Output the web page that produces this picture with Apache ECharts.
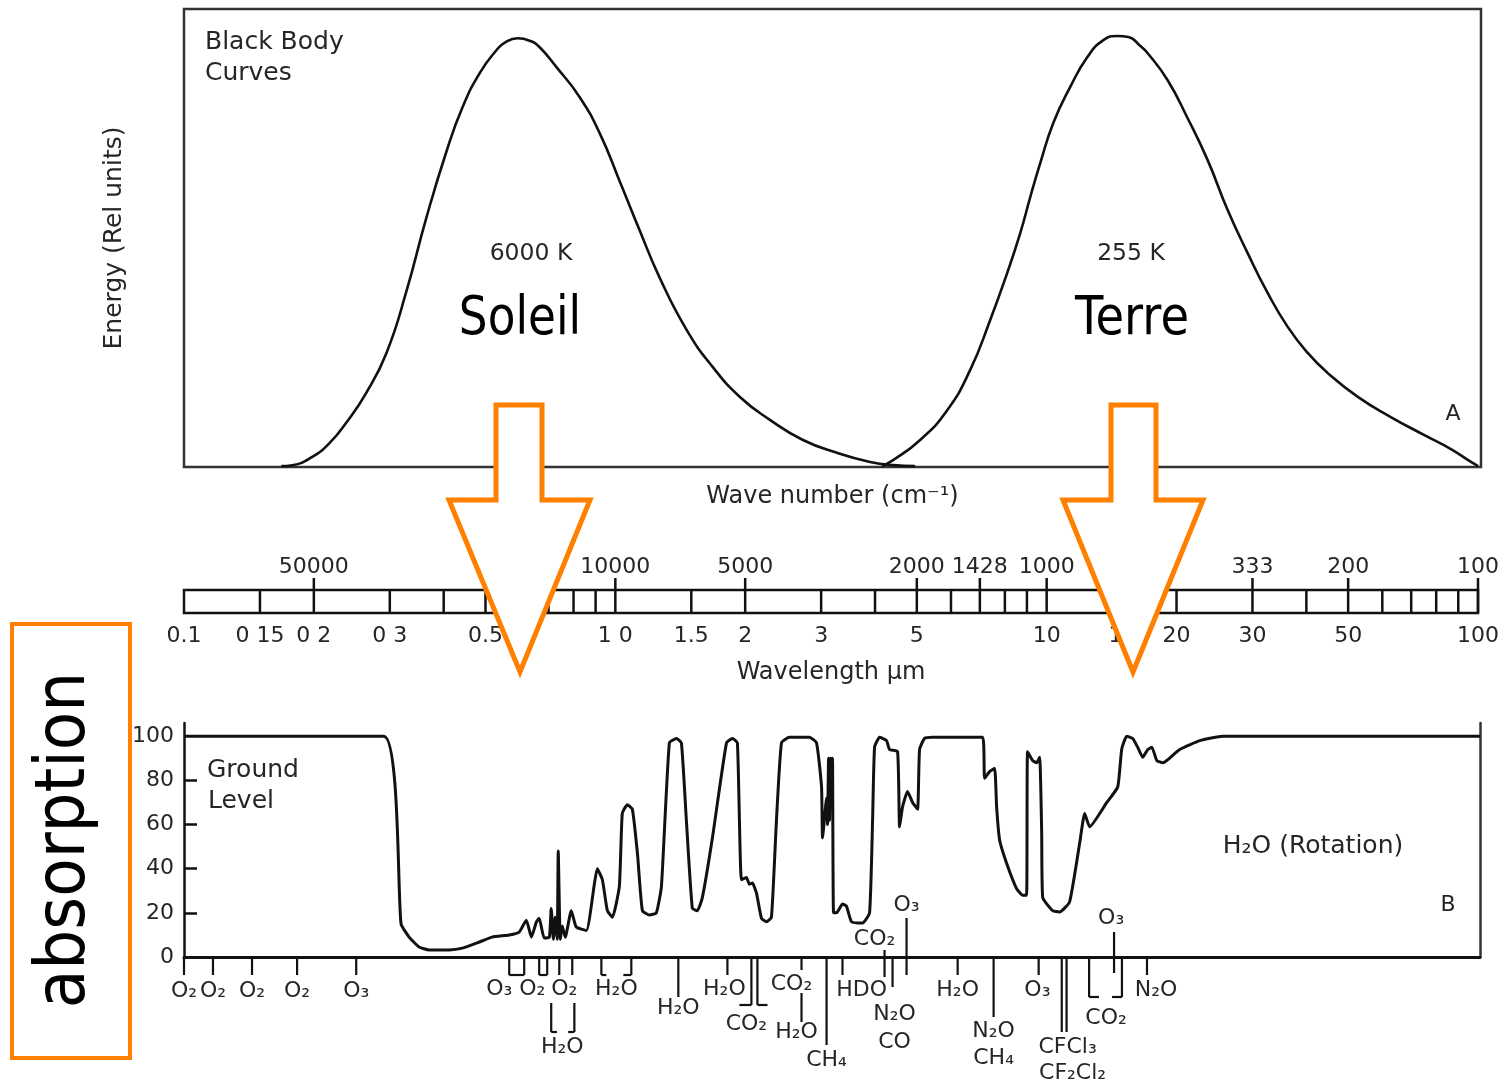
<!DOCTYPE html>
<html>
<head>
<meta charset="utf-8">
<title>Black body curves and atmospheric absorption</title>
<script src="https://cdn.jsdelivr.net/npm/echarts@6/dist/echarts.min.js"></script>
<style>
  html, body { margin: 0; padding: 0; background: #fff; }
  #chart { width: 1506px; height: 1084px; }
</style>
</head>
<body>
<div id="chart"></div>
<script>
// ---------- data (wavelength in µm) ----------

// Normalised black body emission, 6000 K (sun)
const sunCurve = [
  [0.168, 0.2], [0.178, 0.4], [0.198, 2.2], [0.217, 5.2], [0.237, 9.6], [0.264, 16.2],
  [0.294, 24.9], [0.327, 38.4], [0.3635, 54.4], [0.405, 69.0], [0.441, 78.6],
  [0.483, 86.0], [0.528, 91.0], [0.551, 92.6], [0.591, 93.6], [0.633, 93.0], [0.664, 91.7],
  [0.727, 87.3], [0.822, 80.8], [0.915, 72.9], [1.018, 62.4], [1.132, 51.7], [1.260, 41.3],
  [1.455, 29.9], [1.672, 21.8], [1.931, 15.3], [2.266, 10.3], [2.702, 5.9], [3.239, 3.1],
  [3.863, 1.1], [4.367, 0.4], [4.910, 0.2]
];

// Normalised black body emission, 255 K (earth)
const earthCurve = [
  [4.118, 0.2], [4.367, 1.5], [5.043, 5.9], [5.825, 12.4], [6.585, 21.2], [7.325, 32.1],
  [8.020, 42.4], [8.598, 51.1], [9.069, 59.0], [9.565, 66.4], [10.25, 75.1], [11.22, 83.0],
  [12.29, 89.5], [13.38, 93.2], [14.42, 94.1], [15.29, 93.9], [16.30, 91.9], [16.93, 90.4],
  [18.83, 84.5], [20.95, 76.2], [23.32, 67.0], [25.94, 56.1], [28.86, 46.7], [32.10, 38.0],
  [35.72, 30.6], [39.73, 24.9], [44.21, 20.5], [51.89, 15.3], [61.85, 10.9], [73.80, 7.0],
  [85.20, 3.9], [94.81, 1.1], [98.5, 0.2]
];

// Absorption (%) of the whole atmosphere, ground level
const absorptionProfile = [
  [0.1, 100], [0.29, 100], [0.318, 15], [0.332, 9], [0.350, 4.5], [0.369, 3.2], [0.411, 3.2],
  [0.441, 4], [0.483, 6.8], [0.517, 9], [0.566, 10], [0.597, 11.3], [0.620, 16.7], [0.637, 9],
  [0.654, 15.8], [0.664, 17.6], [0.682, 8.6], [0.701, 9], [0.708, 22], [0.716, 8], [0.723, 18],
  [0.731, 8], [0.735, 48], [0.743, 8], [0.751, 14], [0.763, 9], [0.788, 21], [0.809, 13.6],
  [0.854, 12], [0.891, 33], [0.905, 40], [0.930, 35], [0.955, 21], [0.981, 18], [1.018, 32],
  [1.034, 65], [1.062, 69], [1.091, 67], [1.121, 47], [1.151, 21], [1.195, 19], [1.240, 20],
  [1.274, 32], [1.329, 97], [1.380, 99], [1.417, 97], [1.455, 62], [1.502, 22], [1.543, 21],
  [1.585, 27], [1.672, 54], [1.802, 97], [1.860, 99], [1.910, 97], [1.951, 35], [2.004, 36],
  [2.036, 33], [2.069, 33.5], [2.114, 29], [2.171, 17.6], [2.230, 16], [2.290, 18], [2.352, 62],
  [2.416, 97], [2.521, 99.5], [2.805, 99.5], [2.912, 97], [2.991, 77], [3.007, 54], [3.072, 72],
  [3.088, 60], [3.105, 90], [3.121, 62], [3.138, 90], [3.154, 70], [3.171, 90], [3.188, 20],
  [3.239, 20], [3.344, 24], [3.416, 23], [3.509, 16], [3.721, 15.4], [3.863, 20], [3.926, 62],
  [3.968, 95], [4.074, 99.5], [4.229, 98], [4.297, 94], [4.485, 93], [4.533, 59], [4.606, 68],
  [4.730, 75], [4.858, 70], [4.989, 67], [5.043, 94], [5.179, 99], [5.405, 99.5], [7.058, 99.5],
  [7.133, 81], [7.325, 84], [7.523, 85.5], [7.604, 68], [7.727, 53], [8.020, 42.5], [8.458, 31],
  [8.733, 28], [8.921, 28], [8.969, 93], [9.214, 89], [9.413, 88], [9.565, 90.5], [9.668, 57],
  [9.720, 27], [10.25, 21], [10.64, 20.4], [11.22, 25], [11.84, 51.6], [12.16, 65], [12.49, 59],
  [13.68, 70], [14.50, 77], [14.81, 94], [15.21, 100], [15.71, 99], [16.13, 95], [16.57, 90.5],
  [17.02, 94], [17.39, 95], [17.86, 89], [18.44, 88], [18.83, 89], [20.18, 94], [22.46, 98],
  [25.39, 100], [100, 100]
];

// Scale bar between the panels
const scaleTicks = [0.15, 0.2, 0.3, 0.4, 0.5, 0.6, 0.7, 0.8, 0.9, 1, 1.5, 2, 3, 4, 5, 6, 7, 8, 9,
                    10, 15, 20, 30, 40, 50, 60, 70, 80, 90, 100];
const wavenumberLabels = [['50000', 0.2], ['10000', 1], ['5000', 2], ['2000', 5], ['1428', 7],
                          ['1000', 10], ['333', 30], ['200', 50], ['100', 100]];
const wavelengthLabels = [['0.1', 0.1], ['0 15', 0.15], ['0 2', 0.2], ['0 3', 0.3], ['0.5', 0.5],
                          ['1 0', 1], ['1.5', 1.5], ['2', 2], ['3', 3], ['5', 5], ['10', 10],
                          ['15', 15], ['20', 20], ['30', 30], ['50', 50], ['100', 100]];

// Absorbing species: [formula, wavelength µm, label drop below the zero line (px)]
const absorberLabels = [
  ['O₂', 0.1, 34], ['O₂', 0.1167, 34], ['O₂', 0.1437, 34], ['O₂', 0.1827, 34], ['O₃', 0.2504, 34],
  ['O₃', 0.537, 32], ['O₂', 0.640, 32], ['O₂', 0.759, 32], ['H₂O', 0.751, 90],
  ['H₂O', 1.002, 32], ['H₂O', 1.394, 51], ['H₂O', 1.782, 32], ['CO₂', 2.004, 67],
  ['CO₂', 2.548, 27], ['H₂O', 2.617, 75], ['CH₄', 3.072, 103], ['HDO', 3.702, 33],
  ['CO₂', 3.968, -18], ['N₂O', 4.413, 57], ['CO', 4.413, 85], ['O₃', 4.705, -52],
  ['H₂O', 6.178, 33], ['N₂O', 7.483, 74], ['CH₄', 7.483, 101], ['O₃', 9.45, 33],
  ['CFCl₃', 11.10, 90], ['CF₂Cl₂', 11.40, 116], ['CO₂', 13.63, 61], ['O₃', 14.0, -39],
  ['N₂O', 17.78, 33]
];
// Leader lines: [wavelength µm, from px, to px] measured down from the zero line
const absorberLeaders = [
  [0.1, 0, 18], [0.1167, 0, 18], [0.1437, 0, 18], [0.1827, 0, 18], [0.2504, 0, 18],
  [0.566, 0, 18], [0.613, 0, 18], [0.664, 0, 18], [0.693, 0, 18], [0.739, 0, 18], [0.792, 0, 18],
  [0.708, 46, 75], [0.801, 46, 75], [0.925, 0, 18], [1.085, 0, 18], [1.394, 0, 40], [1.811, 0, 18],
  [2.058, 0, 48], [2.125, 0, 48], [2.688, 0, 13], [2.688, 36, 65], [3.072, 0, 88], [3.344, 0, 18],
  [4.184, -7, 20], [4.367, 0, 30], [4.705, -39, 18], [6.178, 0, 18], [7.483, 0, 60], [9.514, 0, 18],
  [10.76, 0, 75], [11.04, 0, 75], [12.45, 0, 40], [14.83, 0, 40], [14.22, -25, 16], [16.95, 0, 18]
];
// Bracket feet: [from µm, to µm, depth px]
const absorberFeet = [
  [0.566, 0.613, 18], [0.664, 0.693, 18], [0.708, 0.73, 75], [0.775, 0.801, 75],
  [0.925, 0.95, 18], [1.04, 1.085, 18], [1.931, 2.058, 48], [2.125, 2.242, 48],
  [12.45, 13.12, 40], [14.07, 14.83, 40]
];

// ---------- chart ----------
const FONT = '"DejaVu Sans", "Liberation Sans", sans-serif';
const INK = '#262626';
const LINE = '#111';
const ORANGE = '#FF8000';

function txt(text, x, y, size, extra, color) {
  return Object.assign({
    type: 'text', x: x, y: y, z: 60,
    style: {
      text: text, fill: color || INK, fontSize: size, fontFamily: FONT,
      font: size + 'px ' + FONT,
      align: 'center', verticalAlign: 'middle',
      textAlign: 'center', textVerticalAlign: 'middle'
    }
  }, extra || {});
}
function txtLeft(text, x, y, size) {
  const t = txt(text, x, y, size);
  t.style.align = 'left'; t.style.textAlign = 'left';
  return t;
}
function arrow(shaftL, shaftR, headL, headR, tipX, top, neck, tip) {
  return {
    type: 'polygon', z: 100,
    shape: { points: [[shaftL, top], [shaftR, top], [shaftR, neck], [headR, neck], [tipX, tip],
                      [headL, neck], [shaftL, neck]] },
    style: { fill: '#fff', stroke: ORANGE, lineWidth: 5, lineJoin: 'miter' }
  };
}

const logAxisBase = { type: 'log', logBase: 10, min: 0.1, max: 100 };
const hiddenParts = { axisLine: { show: false }, axisTick: { show: false },
                      axisLabel: { show: false }, splitLine: { show: false } };

const chart = echarts.init(document.getElementById('chart'), null, { renderer: 'canvas' });

chart.setOption({
  backgroundColor: '#fff',
  animation: false,
  grid: [
    { left: 184, top: 9, width: 1297, height: 458, show: true, borderColor: '#333', borderWidth: 2.5,
      backgroundColor: 'transparent', outerBoundsMode: 'none' },
    { left: 184, top: 590, width: 1294, height: 23, show: true, borderColor: LINE, borderWidth: 2.5,
      backgroundColor: 'transparent', outerBoundsMode: 'none' },
    { left: 184, top: 723, width: 1296, height: 234, outerBoundsMode: 'none' }
  ],
  xAxis: [
    Object.assign({ gridIndex: 0, name: 'Wave number (cm⁻¹)', nameLocation: 'middle', nameGap: 18,
      nameTextStyle: { fontFamily: FONT, fontSize: 24, color: INK } }, logAxisBase, hiddenParts),
    Object.assign({ gridIndex: 1, name: 'Wavelength µm', nameLocation: 'middle', nameGap: 48,
      nameTextStyle: { fontFamily: FONT, fontSize: 24, color: INK } }, logAxisBase, hiddenParts),
    Object.assign({ gridIndex: 2 }, logAxisBase, hiddenParts,
      { axisLine: { show: true, onZero: false, lineStyle: { color: LINE, width: 3 } } })
  ],
  yAxis: [
    Object.assign({ gridIndex: 0, type: 'value', min: 0, max: 100, name: 'Energy (Rel units)',
      nameLocation: 'middle', nameGap: 57, nameRotate: 90,
      nameTextStyle: { fontFamily: FONT, fontSize: 25, color: INK } }, hiddenParts),
    Object.assign({ gridIndex: 1, type: 'value', min: 0, max: 1 }, hiddenParts),
    {
      gridIndex: 2, type: 'value', min: 0, max: 106,
      axisLine: { show: true, lineStyle: { color: LINE, width: 2.5 } },
      axisTick: { show: true, inside: true, length: 13, customValues: [20, 40, 60, 80],
                  lineStyle: { color: LINE, width: 2.5 } },
      axisLabel: { show: true, customValues: [0, 20, 40, 60, 80, 100], margin: 10,
                   fontFamily: FONT, fontSize: 22, color: INK },
      splitLine: { show: false }
    },
    Object.assign({ gridIndex: 2, type: 'value', min: 0, max: 106, position: 'right' }, hiddenParts,
      { axisLine: { show: true, lineStyle: { color: '#333', width: 2.5 } } })
  ],
  series: [
    { name: '6000 K', type: 'line', xAxisIndex: 0, yAxisIndex: 0, data: sunCurve, smooth: 0.5,
      showSymbol: false, lineStyle: { color: LINE, width: 2.6 } },
    { name: '255 K', type: 'line', xAxisIndex: 0, yAxisIndex: 0, data: earthCurve, smooth: 0.5,
      showSymbol: false, lineStyle: { color: LINE, width: 2.6 } },
    {
      name: 'scale ticks', type: 'custom', xAxisIndex: 1, yAxisIndex: 1, clip: false, z: 5,
      data: scaleTicks.map(w => [w, 0]),
      renderItem: (params, api) => {
        const w = scaleTicks[params.dataIndex];
        const lo = api.coord([w, 0]);
        const hi = api.coord([w, 1]);
        const major = wavenumberLabels.some(l => l[1] === w);
        return { type: 'line', shape: { x1: lo[0], y1: lo[1], x2: lo[0], y2: hi[1] - (major ? 12 : 0) },
                 style: { stroke: LINE, lineWidth: 2.5 } };
      }
    },
    {
      name: 'wave numbers', type: 'custom', xAxisIndex: 1, yAxisIndex: 1, clip: false,
      data: wavenumberLabels.map(l => [l[1], 1]),
      renderItem: (params, api) => {
        const l = wavenumberLabels[params.dataIndex];
        const p = api.coord([l[1], 1]);
        return { type: 'text', x: p[0], y: p[1] - 23,
                 style: { text: l[0], fill: INK, fontSize: 22, fontFamily: FONT,
                          align: 'center', verticalAlign: 'middle' } };
      }
    },
    {
      name: 'wavelengths', type: 'custom', xAxisIndex: 1, yAxisIndex: 1, clip: false,
      data: wavelengthLabels.map(l => [l[1], 0]),
      renderItem: (params, api) => {
        const l = wavelengthLabels[params.dataIndex];
        const p = api.coord([l[1], 0]);
        return { type: 'text', x: p[0], y: p[1] + 23,
                 style: { text: l[0], fill: INK, fontSize: 22, fontFamily: FONT,
                          align: 'center', verticalAlign: 'middle' } };
      }
    },
    { name: 'absorption', type: 'line', xAxisIndex: 2, yAxisIndex: 2, data: absorptionProfile,
      smooth: 0.15, showSymbol: false, z: 4, lineStyle: { color: LINE, width: 3 } },
    {
      name: 'leaders', type: 'custom', xAxisIndex: 2, yAxisIndex: 2, clip: false,
      data: absorberLeaders.map(d => [d[0], 0]),
      renderItem: (params, api) => {
        const d = absorberLeaders[params.dataIndex];
        const p = api.coord([d[0], 0]);
        return { type: 'line', shape: { x1: p[0], y1: p[1] + d[1], x2: p[0], y2: p[1] + d[2] },
                 style: { stroke: LINE, lineWidth: 2.2 } };
      }
    },
    {
      name: 'feet', type: 'custom', xAxisIndex: 2, yAxisIndex: 2, clip: false,
      data: absorberFeet.map(d => [d[0], 0]),
      renderItem: (params, api) => {
        const d = absorberFeet[params.dataIndex];
        const a = api.coord([d[0], 0]);
        const b = api.coord([d[1], 0]);
        return { type: 'line', shape: { x1: a[0], y1: a[1] + d[2], x2: b[0], y2: a[1] + d[2] },
                 style: { stroke: LINE, lineWidth: 2.2 } };
      }
    },
    {
      name: 'absorbers', type: 'custom', xAxisIndex: 2, yAxisIndex: 2, clip: false,
      data: absorberLabels.map(d => [d[1], 0]),
      renderItem: (params, api) => {
        const d = absorberLabels[params.dataIndex];
        const p = api.coord([d[1], 0]);
        return { type: 'text', x: p[0], y: p[1] + d[2],
                 style: { text: d[0], fill: INK, fontSize: 22, fontFamily: FONT,
                          align: 'center', verticalAlign: 'middle' } };
      }
    }
  ],
  graphic: [
    txtLeft('Black Body', 205, 42, 25),
    txtLeft('Curves', 205, 73, 25),
    txt('6000 K', 531, 254, 23.5),
    txt('255 K', 1131, 254, 23.5),
    txt('A', 1453, 414, 22),
    txt('Soleil', 520, 320, 54, { scaleX: 0.84 }, '#000'),
    txt('Terre', 1132, 320, 54, { scaleX: 0.86 }, '#000'),
    txtLeft('Ground', 207, 770, 25),
    txtLeft('Level', 208, 801, 25),
    txt('H₂O (Rotation)', 1313, 846, 25),
    txt('B', 1448, 905, 22),
    arrow(496, 542, 449, 590, 520, 405, 500, 672),
    arrow(1111, 1156, 1063, 1203, 1133, 405, 500, 672),
    { type: 'rect', z: 100, shape: { x: 12, y: 624, width: 118, height: 434 },
      style: { fill: null, stroke: ORANGE, lineWidth: 4 } },
    Object.assign(txt('absorption', 66, 840, 70, { rotation: Math.PI / 2, scaleX: 0.9 }, '#000'),
      { z: 101 })
  ]
});
</script>
</body>
</html>
